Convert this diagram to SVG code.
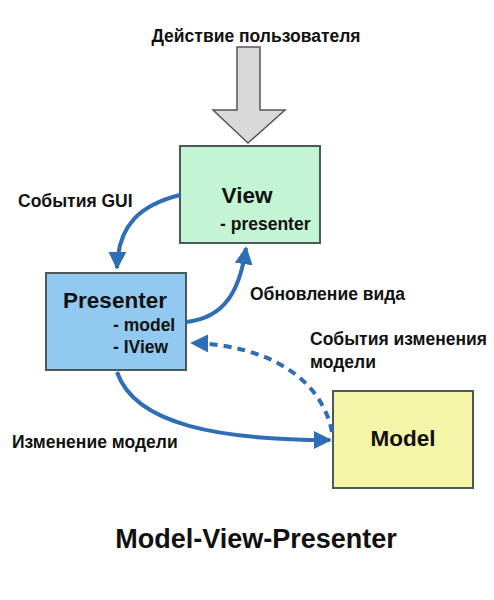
<svg xmlns="http://www.w3.org/2000/svg" width="494" height="600" viewBox="0 0 494 600">
<defs>
<style>
.t{font-family:"Liberation Sans",Arial,sans-serif;font-weight:bold;fill:#111;}
.lbl{font-size:17.5px;}
.big{font-size:22.5px;}
.box{stroke:#4a5a5a;stroke-width:2;}
.c{fill:none;stroke:#2f6db5;stroke-width:4;}
</style>
<marker id="ah" viewBox="0 0 10 10" refX="9" refY="5" markerWidth="4.5" markerHeight="4.5" orient="auto" markerUnits="strokeWidth">
<path d="M0,0 L10,5 L0,10 z" fill="#2f6db5"/>
</marker>
</defs>
<rect width="494" height="600" fill="#ffffff"/>
<g id="user-action">
<text class="t lbl" x="256" y="42" text-anchor="middle">Действие пользователя</text>
<polygon points="237,47 260,47 260,110 285,110 248,143 213,110 237,110" fill="#d9d9d9" stroke="#555" stroke-width="1.5"/>
</g>
<g id="view">
<rect class="box" x="180" y="146" width="140" height="97" fill="#c3f4d4"/>
<text class="t big" x="247" y="203" text-anchor="middle">View</text>
<text class="t lbl" x="220" y="230">- presenter</text>
</g>
<g id="presenter">
<rect class="box" x="46" y="273" width="140" height="97" fill="#92c9f0"/>
<text class="t big" x="115" y="308" text-anchor="middle">Presenter</text>
<text class="t lbl" x="113" y="331">- model</text>
<text class="t lbl" x="113" y="353">- IView</text>
</g>
<g id="model">
<rect class="box" x="333" y="391" width="140" height="97" fill="#f5f5a8"/>
<text class="t big" x="403" y="446" text-anchor="middle">Model</text>
</g>
<g id="connectors">
<path class="c" d="M180,195 C140,205 118,225 117,268" marker-end="url(#ah)"/>
<path class="c" d="M186,322 C225,318 240,290 246,248" marker-end="url(#ah)"/>
<path class="c" d="M332,432 C322,380 270,345 192,343" stroke-dasharray="8,6" marker-end="url(#ah)"/>
<path class="c" d="M117,372 C135,425 220,440 330,440" marker-end="url(#ah)"/>
</g>
<g id="labels">
<text class="t lbl" x="18" y="207">События GUI</text>
<text class="t lbl" x="250" y="300">Обновление вида</text>
<text class="t lbl" x="310" y="345">События изменения</text>
<text class="t lbl" x="310" y="368">модели</text>
<text class="t lbl" x="12" y="448">Изменение модели</text>
</g>
<text class="t" x="256" y="548" font-size="27" text-anchor="middle">Model-View-Presenter</text>
</svg>
